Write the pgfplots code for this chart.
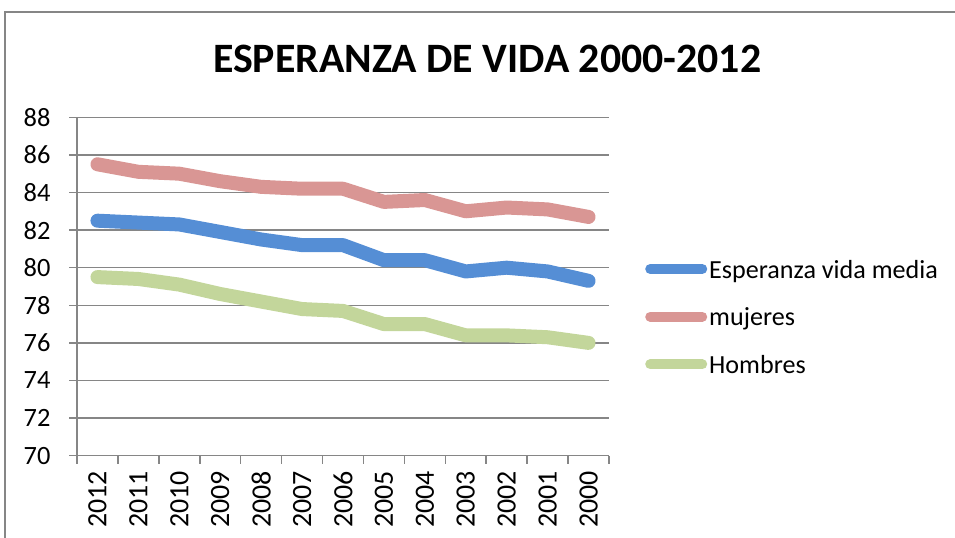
\documentclass[border=0pt]{standalone}
\usepackage{pgfplots}
\pgfplotsset{compat=1.18}
\usepackage{fontspec}
\setmainfont{Carlito}
\definecolor{cblue}{RGB}{85,142,213}
\definecolor{cred}{RGB}{217,150,148}
\definecolor{cgreen}{RGB}{195,214,155}
\definecolor{cgrid}{RGB}{134,134,134}
\begin{document}
\begin{tikzpicture}[x=1bp,y=1bp]
\useasboundingbox (0,0) rectangle (955,538);
\draw[cgrid, line width=1.5bp] (5,0) -- (5,526) -- (955,526);
\node[font=\fontsize{42}{48}\selectfont\bfseries, anchor=base, inner sep=0] at (487.2,465.3) {ESPERANZA DE VIDA 2000-2012};
\begin{axis}[at={(77bp,82.3bp)}, anchor=south west, width=532bp, height=338.4bp, scale only axis,
  xmin=-0.5, xmax=12.5, ymin=70, ymax=88, ytick={70,72,...,88},
  xtick={-0.5,0.5,1.5,2.5,3.5,4.5,5.5,6.5,7.5,8.5,9.5,10.5,11.5,12.5},
  xticklabels={2012,2011,2010,2009,2008,2007,2006,2005,2004,2003,2002,2001,2000},
  x tick label as interval,
  axis x line*=bottom, axis y line*=left,
  axis line style={cgrid, line width=1.5bp, -},
  ymajorgrids, grid style={cgrid, line width=1.5bp},
  tick style={cgrid, line width=1.5bp}, tick align=outside, major tick length=8bp,
  yticklabel style={font=\fontsize{26.5}{30}\selectfont},
  xticklabel style={font=\fontsize{28}{32}\selectfont, rotate=90, anchor=east},
  yticklabel shift=15bp, xticklabel shift=4bp,
  /pgf/number format/assume math mode=true,
  legend style={at={(1.0677,0.4108)}, anchor=west, draw=none, fill=none, inner sep=0pt,
    font=\fontsize{26.2}{30}\selectfont, row sep=22.6bp,
    /tikz/every even column/.append style={text height=19.6bp, text depth=6.5bp}},
  legend cell align=left,
  legend image code/.code={\draw[#1, line width=10bp] (5bp,0) -- (57bp,0);},
  every axis plot/.append style={line width=14bp, line cap=round, line join=round},
]
\addplot[cblue] coordinates {(0,82.5)(1,82.4)(2,82.3)(3,81.9)(4,81.5)(5,81.2)(6,81.2)(7,80.4)(8,80.4)(9,79.8)(10,80.0)(11,79.8)(12,79.3)};
\addlegendentry{Esperanza vida media}
\addplot[cred] coordinates {(0,85.5)(1,85.1)(2,85.0)(3,84.6)(4,84.3)(5,84.2)(6,84.2)(7,83.5)(8,83.6)(9,83.0)(10,83.2)(11,83.1)(12,82.7)};
\addlegendentry{mujeres}
\addplot[cgreen] coordinates {(0,79.5)(1,79.4)(2,79.1)(3,78.6)(4,78.2)(5,77.8)(6,77.7)(7,77.0)(8,77.0)(9,76.4)(10,76.4)(11,76.3)(12,76.0)};
\addlegendentry{Hombres}
\end{axis}
\end{tikzpicture}
\end{document}
